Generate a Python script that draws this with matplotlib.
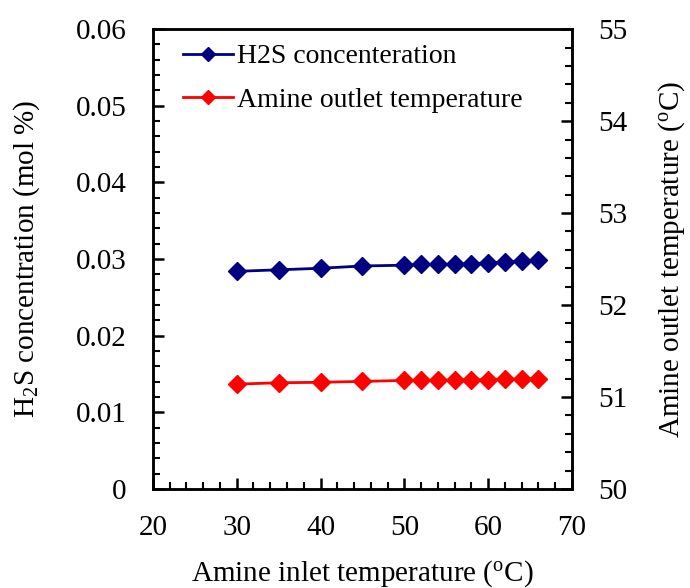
import matplotlib
matplotlib.use("Agg")
import matplotlib.pyplot as plt
from matplotlib.ticker import MultipleLocator

plt.rcParams['font.family'] = ['Liberation Serif', 'DejaVu Serif']
plt.rcParams['mathtext.fontset'] = 'custom'
plt.rcParams['mathtext.rm'] = 'Liberation Serif'
plt.rcParams['mathtext.it'] = 'Liberation Serif:italic'

inlet_temp = [30, 35, 40, 45, 50, 52, 54, 56, 58, 60, 62, 64, 66]
h2s_conc = [0.0284, 0.0286, 0.0288, 0.0291, 0.0292, 0.0293, 0.0293, 0.0293, 0.0294, 0.0295, 0.0296, 0.0297, 0.0299]
outlet_temp = [51.14, 51.155, 51.16, 51.17, 51.18, 51.18, 51.18, 51.185, 51.185, 51.19, 51.195, 51.195, 51.20]

fig = plt.figure(figsize=(6.9, 5.88), dpi=100)
ax = fig.add_axes([0.2217, 0.1684, 0.607, 0.782])
ax2 = ax.twinx()

l1, = ax.plot(inlet_temp, h2s_conc, color='#000080', marker='D', ms=9, lw=2,
              label='H2S concenteration')
l2, = ax2.plot(inlet_temp, outlet_temp, color='#FF0000', marker='D', ms=9, lw=2,
               label='Amine outlet temperature')

ax.set_xlim(20, 70)
ax.set_ylim(0, 0.06)
ax2.set_ylim(50, 55)
ax.xaxis.set_major_locator(MultipleLocator(10))
ax.xaxis.set_minor_locator(MultipleLocator(2))
ax.yaxis.set_minor_locator(MultipleLocator(0.002))
ax2.yaxis.set_major_locator(MultipleLocator(1))
ax2.yaxis.set_minor_locator(MultipleLocator(0.2))

ax.set_yticks([0, 0.01, 0.02, 0.03, 0.04, 0.05, 0.06])
ax.set_yticklabels(['0', '0.01', '0.02', '0.03', '0.04', '0.05', '0.06'])

for a in (ax, ax2):
    for s in a.spines.values():
        s.set_linewidth(1.8)
    a.tick_params(which='major', direction='in', length=8, width=1.8, labelsize=21)
    a.tick_params(which='minor', direction='in', length=5, width=1.5)
ax.tick_params(axis='y', which='major', pad=19)
ax.tick_params(axis='x', which='major', pad=19)
ax2.tick_params(axis='y', which='major', pad=19)

ax.set_xlabel('Amine inlet temperature ($^{\\rm o}$C)', fontsize=21, labelpad=12)
ax.set_ylabel('H$_2$S concentration (mol %)', fontsize=21, labelpad=24)
ax2.set_ylabel('Amine outlet temperature ($^{\\rm o}$C)', fontsize=21, labelpad=21)

ax.legend(handles=[l1, l2], loc='upper left', frameon=False, fontsize=20,
          handlelength=1.8, handletextpad=0.15, borderaxespad=0, borderpad=0,
          bbox_to_anchor=(0.0716, 0.968),
          labelspacing=0.65, markerscale=0.75)

fig.savefig('out.png', dpi=100)
